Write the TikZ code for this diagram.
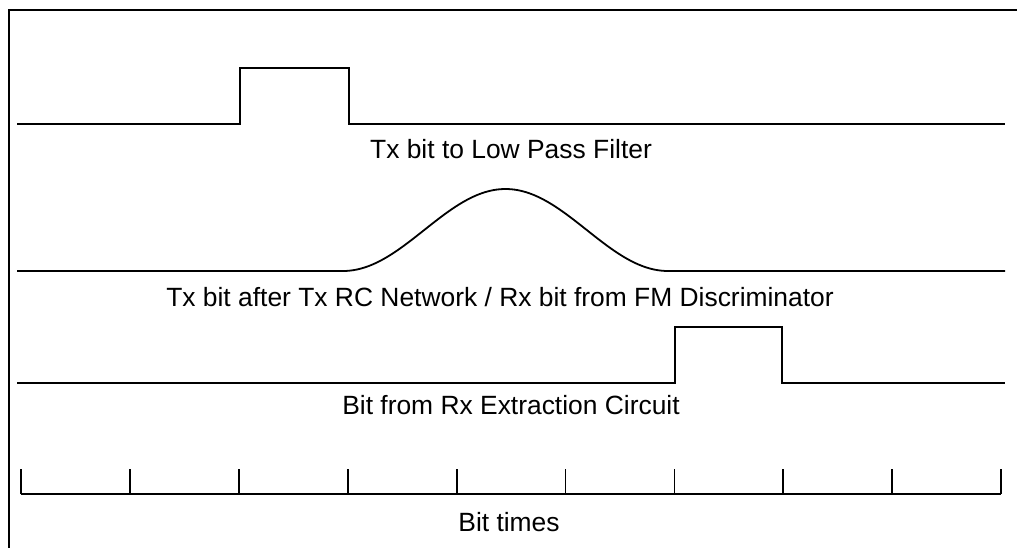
\documentclass[tikz,border=0pt]{standalone}
\usepackage{fontspec}
\setmainfont{Liberation Sans}
\usetikzlibrary{positioning}

\begin{document}
\begin{tikzpicture}[x=1pt, y=-1pt, line width=1.8pt,
    lbl/.style={font=\fontsize{26.4}{30}\selectfont, inner sep=0pt, anchor=base}]
    \useasboundingbox (0,0) rectangle (1017,548);
    % frame
    \draw (9,548) -- (9,10) -- (1017,10);
    % Tx bit
    \draw (17,124) -- (240,124) -- (240,68) -- (349,68) -- (349,124) -- (1005,124);
    \node[lbl] (txlpf) at (511,159) {Tx bit to Low Pass Filter};
    % bit after RC network
    \draw (17,271) -- (343,271)
        -- plot[domain=343:668, samples=90, smooth] (\x, {271-41*(1-cos(1.10769*(\x-343)))})
        -- (1005,271);
    \node[lbl] (txrc) at (500,306) {Tx bit after Tx RC Network / Rx bit from FM Discriminator};
    % extracted bit
    \draw (17,383) -- (675,383) -- (675,327) -- (782,327) -- (782,383) -- (1005,383);
    \node[lbl] (rxbit) at (511,414) {Bit from Rx Extraction Circuit};
    % bit times
    \draw (21,494) -- (1001,494);
    \foreach \i in {0,...,9}
        \draw (21+108.9*\i,494) -- ++(0,-25);
    \node[lbl] (bits) at (509,531) {Bit times};
\end{tikzpicture}
\end{document}
